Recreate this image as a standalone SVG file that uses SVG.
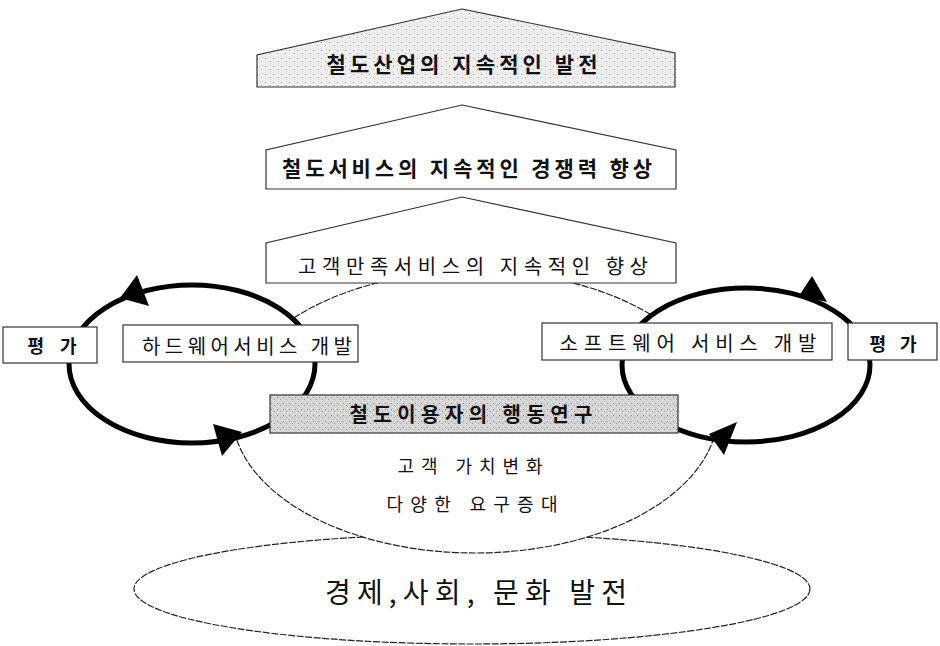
<svg xmlns="http://www.w3.org/2000/svg" width="940" height="646" viewBox="0 0 940 646">
<defs>
<pattern id="stip1" width="8" height="8" patternUnits="userSpaceOnUse">
<rect width="8" height="8" fill="#efefef"/>
<rect x="1" y="2" width="1" height="1" fill="#9a9a9a"/>
<rect x="5" y="5" width="1" height="1" fill="#b0b0b0"/>
<rect x="6" y="1" width="1" height="1" fill="#c4c4c4"/>
</pattern>
<pattern id="stip2" width="6" height="6" patternUnits="userSpaceOnUse">
<rect width="6" height="6" fill="#d4d4d4"/>
<rect x="1" y="1" width="1" height="1" fill="#8a8a8a"/>
<rect x="4" y="3" width="1" height="1" fill="#9c9c9c"/>
<rect x="2" y="4" width="1" height="1" fill="#f2f2f2"/>
<rect x="5" y="0" width="1" height="1" fill="#f6f6f6"/>
</pattern>
<style>
.box{fill:#fff;stroke:#333;stroke-width:1.2}
.thin{fill:#fff;stroke:#222;stroke-width:1.2;stroke-dasharray:7 1.5}
.loop{fill:#fff;stroke:#000;stroke-width:5}
.ah{fill:#000}
text{font-family:"Noto Sans CJK KR","Noto Sans",sans-serif;fill:#111;text-anchor:middle}
.b{font-weight:bold}
</style>
</defs>
<rect width="940" height="646" fill="#fff"/>

<g id="base-ellipse">
<ellipse class="thin" cx="472" cy="589" rx="338" ry="55"/>
</g>
<g id="mid-ellipse">
<ellipse class="thin" cx="475" cy="412" rx="243" ry="141"/>
</g>

<g id="connectors">
<ellipse class="loop" cx="192" cy="364" rx="123" ry="79"/>
<ellipse class="loop" cx="746" cy="365" rx="124" ry="77"/>
<polygon class="ah" points="120,298 137,275 149,306"/>
<polygon class="ah" points="242,432 213,424 222,456"/>
<polygon class="ah" points="827,302 812,276 799,296"/>
<polygon class="ah" points="709,434 737,422 724,455"/>
</g>

<g id="goal1">
<polygon points="462,9 675,53 675,87 257,87 257,55" fill="url(#stip1)" stroke="#333" stroke-width="1.2"/>
<text class="b" x="462" y="72" font-size="21" textLength="271" lengthAdjust="spacing">철도산업의 지속적인 발전</text>
</g>
<g id="goal2">
<polygon class="box" points="462,105 676,150 676,189 266,189 266,150"/>
<text class="b" x="467" y="176" font-size="21" textLength="370" lengthAdjust="spacing">철도서비스의 지속적인 경쟁력 향상</text>
</g>
<g id="goal3">
<polygon class="box" points="462,197 676,243 676,283 266,283 266,243"/>
<text x="473" y="274" font-size="20" textLength="350" lengthAdjust="spacing">고객만족서비스의 지속적인 향상</text>
</g>

<g id="eval-left">
<rect class="box" x="3" y="327" width="94" height="36"/>
<text class="b" x="52" y="353" font-size="18" textLength="49" lengthAdjust="spacing">평가</text>
</g>
<g id="hardware">
<rect class="box" x="123" y="325" width="235" height="37"/>
<text x="247" y="354" font-size="20" textLength="210" lengthAdjust="spacing">하드웨어서비스 개발</text>
</g>
<g id="software">
<rect class="box" x="542" y="323" width="290" height="37"/>
<text x="688" y="351" font-size="20" textLength="257" lengthAdjust="spacing">소프트웨어 서비스 개발</text>
</g>
<g id="eval-right">
<rect class="box" x="848" y="323" width="89" height="37"/>
<text class="b" x="893" y="351" font-size="18" textLength="47" lengthAdjust="spacing">평가</text>
</g>
<g id="research">
<rect x="270" y="395" width="408" height="38" fill="url(#stip2)" stroke="#333" stroke-width="1.2"/>
<text class="b" x="471" y="422" font-size="20" textLength="243" lengthAdjust="spacing">철도이용자의 행동연구</text>
</g>
<g id="customer">
<text x="470" y="473" font-size="18" textLength="145" lengthAdjust="spacing">고객 가치변화</text>
<text x="472" y="511" font-size="18" textLength="171" lengthAdjust="spacing">다양한 요구증대</text>
</g>
<g id="economy">
<text x="476" y="603" font-size="28" textLength="302" lengthAdjust="spacing">경제,사회, 문화 발전</text>
</g>
</svg>
